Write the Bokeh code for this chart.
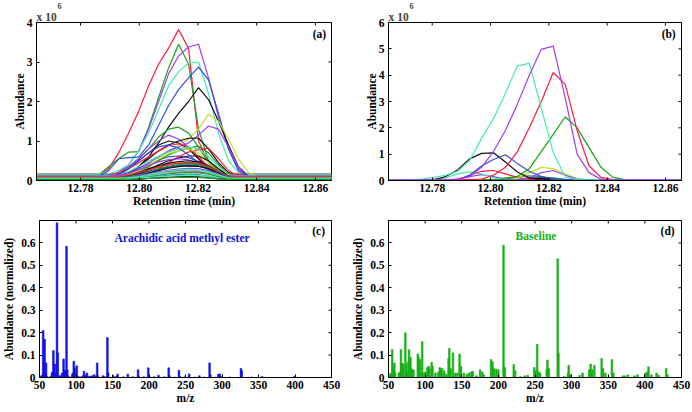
import numpy as np
from bokeh.plotting import figure
from bokeh.layouts import row, column
from bokeh.models import Range1d, FixedTicker, Label, NumeralTickFormatter, Title
from bokeh.embed import file_html
from bokeh.resources import INLINE

# ---------------- colours ----------------
RED = "#FF1A3C"
GREEN = "#1E9E1E"
PURPLE = "#9B3FF0"
AQUA = "#44EBB0"
BLUE = "#2E4FDF"
BLACK = "#111111"
YELLOW = "#BDE332"
SPEC_BLUE = "#1010E6"
SPEC_GREEN = "#18B018"

# ---------------- panel (a): retention-time grid and profiles (x 10^6) ----------------
rt_a = [12.7650, 12.7862, 12.7896, 12.7930, 12.7964, 12.7998, 12.8032, 12.8066, 12.8100, 12.8134,
        12.8168, 12.8202, 12.8236, 12.8270, 12.8304, 12.8338, 12.8372, 12.8406, 12.8440, 12.8655]

a01 = [0.15, 0.15, 0.30, 0.70, 1.20, 1.75, 2.40, 2.95, 3.35, 3.82, 3.35, 1.00, 0.45, 0.28, 0.17, 0.15, 0.15, 0.15, 0.15, 0.15]
a02 = [0.12, 0.14, 0.35, 0.55, 0.72, 0.73, 1.35, 2.10, 2.85, 3.45, 2.95, 1.30, 0.50, 0.22, 0.13, 0.12, 0.12, 0.12, 0.12, 0.12]
a03 = [0.10, 0.10, 0.12, 0.20, 0.40, 0.75, 1.30, 2.00, 2.70, 3.15, 3.38, 3.45, 2.60, 1.60, 0.80, 0.30, 0.12, 0.10, 0.10, 0.10]
a04 = [0.16, 0.16, 0.17, 0.25, 0.40, 0.75, 1.20, 1.80, 2.40, 2.75, 2.98, 3.00, 2.20, 1.20, 0.50, 0.20, 0.16, 0.16, 0.16, 0.16]
a05 = [0.08, 0.10, 0.25, 0.55, 0.58, 0.60, 0.90, 1.40, 1.90, 2.30, 2.60, 2.87, 2.55, 1.70, 0.80, 0.25, 0.10, 0.08, 0.08, 0.08]
a06 = [0.05, 0.05, 0.06, 0.10, 0.20, 0.35, 0.60, 0.95, 1.35, 1.70, 2.00, 2.35, 2.05, 1.50, 0.90, 0.35, 0.10, 0.05, 0.05, 0.05]
a07 = [0.06, 0.06, 0.06, 0.08, 0.12, 0.20, 0.35, 0.55, 0.75, 0.90, 1.05, 1.30, 1.68, 1.50, 1.05, 0.55, 0.20, 0.08, 0.06, 0.06]
a08 = [0.09, 0.09, 0.09, 0.11, 0.18, 0.30, 0.45, 0.60, 0.75, 0.85, 0.95, 1.15, 1.38, 1.30, 0.85, 0.35, 0.12, 0.09, 0.09, 0.09]
a09 = [0.10, 0.10, 0.12, 0.20, 0.35, 0.55, 0.80, 1.10, 1.30, 1.35, 1.20, 0.85, 0.45, 0.20, 0.12, 0.10, 0.10, 0.10, 0.10, 0.10]
a10 = [0.08, 0.08, 0.10, 0.20, 0.35, 0.55, 0.80, 1.00, 1.15, 1.05, 0.85, 0.55, 0.30, 0.15, 0.09, 0.08, 0.08, 0.08, 0.08, 0.08]
a11 = [0.05, 0.05, 0.06, 0.10, 0.20, 0.35, 0.55, 0.75, 0.90, 1.00, 1.07, 1.07, 0.80, 0.45, 0.20, 0.08, 0.05, 0.05, 0.05, 0.05]
a12 = [0.04, 0.04, 0.08, 0.15, 0.30, 0.50, 0.70, 0.90, 1.00, 0.95, 0.80, 0.55, 0.30, 0.12, 0.06, 0.04, 0.04, 0.04, 0.04, 0.04]
a13 = [0.10, 0.10, 0.12, 0.20, 0.30, 0.45, 0.60, 0.75, 0.88, 0.93, 0.85, 0.60, 0.35, 0.18, 0.10, 0.10, 0.10, 0.10, 0.10, 0.10]
a14 = [0.08, 0.08, 0.08, 0.10, 0.15, 0.25, 0.35, 0.50, 0.65, 0.75, 0.82, 0.87, 0.70, 0.40, 0.18, 0.09, 0.08, 0.08, 0.08, 0.08]
a15 = [0.06, 0.06, 0.06, 0.07, 0.08, 0.10, 0.20, 0.30, 0.45, 0.60, 0.72, 0.78, 0.82, 0.55, 0.25, 0.10, 0.06, 0.06, 0.06, 0.06]
a16 = [0.07, 0.07, 0.07, 0.10, 0.15, 0.25, 0.40, 0.55, 0.68, 0.75, 0.80, 0.70, 0.45, 0.20, 0.09, 0.07, 0.07, 0.07, 0.07, 0.07]
a17 = [0.03, 0.03, 0.03, 0.05, 0.10, 0.18, 0.28, 0.40, 0.50, 0.57, 0.62, 0.62, 0.50, 0.30, 0.12, 0.04, 0.03, 0.03, 0.03, 0.03]
a18 = [0.12, 0.12, 0.12, 0.15, 0.22, 0.35, 0.50, 0.62, 0.72, 0.80, 0.85, 0.80, 0.60, 0.35, 0.15, 0.12, 0.12, 0.12, 0.12, 0.12]
a19 = [0.07, 0.07, 0.09, 0.15, 0.30, 0.50, 0.70, 0.85, 0.90, 0.82, 0.65, 0.45, 0.25, 0.12, 0.08, 0.07, 0.07, 0.07, 0.07, 0.07]
a20 = [0.14, 0.14, 0.14, 0.16, 0.22, 0.32, 0.42, 0.52, 0.60, 0.62, 0.58, 0.48, 0.32, 0.18, 0.14, 0.14, 0.14, 0.14, 0.14, 0.14]
a21 = [0.11, 0.11, 0.11, 0.13, 0.18, 0.27, 0.38, 0.47, 0.53, 0.55, 0.52, 0.45, 0.32, 0.18, 0.12, 0.11, 0.11, 0.11, 0.11, 0.11]
a22 = [0.05, 0.05, 0.05, 0.07, 0.12, 0.20, 0.30, 0.38, 0.44, 0.48, 0.50, 0.47, 0.38, 0.22, 0.09, 0.05, 0.05, 0.05, 0.05, 0.05]
a23 = [0.09, 0.09, 0.09, 0.10, 0.14, 0.20, 0.27, 0.34, 0.40, 0.44, 0.46, 0.44, 0.36, 0.22, 0.11, 0.09, 0.09, 0.09, 0.09, 0.09]
a24 = [0.13, 0.13, 0.13, 0.14, 0.17, 0.22, 0.28, 0.35, 0.40, 0.43, 0.44, 0.42, 0.35, 0.24, 0.15, 0.13, 0.13, 0.13, 0.13, 0.13]
a25 = [0.06, 0.06, 0.06, 0.07, 0.10, 0.15, 0.22, 0.30, 0.36, 0.40, 0.42, 0.40, 0.33, 0.20, 0.09, 0.06, 0.06, 0.06, 0.06, 0.06]
a26 = [0.04, 0.04, 0.04, 0.05, 0.08, 0.13, 0.20, 0.27, 0.33, 0.37, 0.39, 0.37, 0.30, 0.18, 0.07, 0.04, 0.04, 0.04, 0.04, 0.04]
a27 = [0.10, 0.10, 0.10, 0.11, 0.13, 0.17, 0.23, 0.29, 0.34, 0.37, 0.38, 0.36, 0.30, 0.20, 0.12, 0.10, 0.10, 0.10, 0.10, 0.10]
a28 = [0.02, 0.02, 0.02, 0.03, 0.06, 0.11, 0.18, 0.25, 0.31, 0.35, 0.37, 0.36, 0.30, 0.18, 0.06, 0.02, 0.02, 0.02, 0.02, 0.02]
a29 = [0.05, 0.05, 0.05, 0.06, 0.08, 0.12, 0.17, 0.22, 0.26, 0.29, 0.31, 0.30, 0.25, 0.16, 0.07, 0.05, 0.05, 0.05, 0.05, 0.05]
a30 = [0.03, 0.03, 0.03, 0.04, 0.06, 0.10, 0.15, 0.20, 0.24, 0.27, 0.28, 0.27, 0.22, 0.14, 0.05, 0.03, 0.03, 0.03, 0.03, 0.03]
a31 = [0.02, 0.02, 0.02, 0.03, 0.05, 0.08, 0.12, 0.16, 0.20, 0.23, 0.24, 0.23, 0.19, 0.12, 0.04, 0.02, 0.02, 0.02, 0.02, 0.02]
a32 = [0.03, 0.03, 0.03, 0.03, 0.05, 0.07, 0.10, 0.14, 0.17, 0.19, 0.20, 0.19, 0.16, 0.10, 0.04, 0.03, 0.03, 0.03, 0.03, 0.03]
a33 = [0.02, 0.02, 0.02, 0.02, 0.03, 0.05, 0.08, 0.11, 0.13, 0.15, 0.15, 0.14, 0.11, 0.07, 0.03, 0.02, 0.02, 0.02, 0.02, 0.02]
a34 = [0.08, 0.08, 0.08, 0.08, 0.09, 0.11, 0.14, 0.17, 0.19, 0.21, 0.22, 0.21, 0.18, 0.13, 0.09, 0.08, 0.08, 0.08, 0.08, 0.08]
a35 = [0.01, 0.01, 0.01, 0.01, 0.02, 0.03, 0.05, 0.07, 0.08, 0.09, 0.10, 0.09, 0.07, 0.04, 0.02, 0.01, 0.01, 0.01, 0.01, 0.01]
a36 = [0.06, 0.06, 0.06, 0.06, 0.07, 0.09, 0.12, 0.16, 0.20, 0.23, 0.25, 0.24, 0.20, 0.13, 0.07, 0.06, 0.06, 0.06, 0.06, 0.06]
a37 = [0.04, 0.04, 0.04, 0.04, 0.05, 0.06, 0.08, 0.10, 0.12, 0.13, 0.14, 0.13, 0.11, 0.07, 0.04, 0.04, 0.04, 0.04, 0.04, 0.04]
a38 = [0.17, 0.17, 0.17, 0.17, 0.17, 0.18, 0.19, 0.21, 0.23, 0.25, 0.26, 0.25, 0.22, 0.19, 0.17, 0.17, 0.17, 0.17, 0.17, 0.17]
a39 = [0.03, 0.03, 0.03, 0.03, 0.03, 0.04, 0.05, 0.06, 0.07, 0.08, 0.08, 0.08, 0.06, 0.04, 0.03, 0.03, 0.03, 0.03, 0.03, 0.03]

series_a = [(a38, RED), (a34, PURPLE), (a20, BLUE), (a24, GREEN), (a27, BLACK), (a01, RED), (a02, GREEN),
            (a03, PURPLE), (a04, AQUA), (a05, BLUE), (a06, BLACK), (a07, YELLOW), (a08, PURPLE),
            (a09, GREEN), (a10, PURPLE), (a11, BLACK), (a12, BLACK), (a13, RED), (a14, GREEN),
            (a15, RED), (a16, YELLOW), (a17, BLACK), (a18, AQUA), (a19, BLUE), (a21, PURPLE),
            (a22, BLACK), (a23, RED), (a25, GREEN), (a26, BLUE), (a28, BLACK), (a29, PURPLE),
            (a30, AQUA), (a31, RED), (a32, GREEN), (a33, BLUE), (a36, AQUA), (a37, AQUA),
            (a35, BLACK), (a39, GREEN)]

# ---------------- panel (b): resolved profiles (x 10^6) ----------------
rt_b = [12.7650, 12.7723, 12.7764, 12.7805, 12.7846, 12.7887, 12.7928, 12.7969, 12.8010, 12.8051, 12.8092,
        12.8133, 12.8174, 12.8215, 12.8256, 12.8297, 12.8338, 12.8379, 12.8420, 12.8461, 12.8502, 12.8655]

b01 = [0.02, 0.03, 0.05, 0.12, 0.20, 0.35, 0.75, 1.60, 2.35, 3.30, 4.35, 4.45, 2.75, 1.07, 0.13, 0.03, 0.02, 0.02, 0.02, 0.02, 0.02, 0.02]
b02 = [0.02, 0.02, 0.02, 0.02, 0.03, 0.05, 0.15, 0.50, 1.10, 1.90, 2.90, 4.00, 4.98, 5.10, 3.15, 1.00, 0.30, 0.05, 0.02, 0.02, 0.02, 0.02]
b03 = [0.02, 0.02, 0.02, 0.02, 0.02, 0.03, 0.03, 0.05, 0.20, 0.50, 1.10, 2.00, 3.00, 4.10, 3.65, 1.90, 0.55, 0.12, 0.03, 0.02, 0.02, 0.02]
b04 = [0.03, 0.03, 0.03, 0.03, 0.03, 0.03, 0.03, 0.03, 0.03, 0.04, 0.15, 0.45, 1.10, 1.75, 2.42, 2.00, 1.25, 0.50, 0.12, 0.03, 0.03, 0.03]
b05 = [0.02, 0.02, 0.02, 0.03, 0.15, 0.40, 0.82, 1.03, 1.05, 0.70, 0.32, 0.10, 0.02, 0.02, 0.02, 0.02, 0.02, 0.02, 0.02, 0.02, 0.02, 0.02]
b06 = [0.02, 0.02, 0.02, 0.02, 0.02, 0.03, 0.20, 0.55, 0.80, 0.98, 0.65, 0.35, 0.15, 0.05, 0.02, 0.02, 0.02, 0.02, 0.02, 0.02, 0.02, 0.02]
b07 = [0.02, 0.02, 0.03, 0.05, 0.10, 0.25, 0.33, 0.25, 0.10, 0.03, 0.02, 0.02, 0.02, 0.02, 0.02, 0.02, 0.02, 0.02, 0.02, 0.02, 0.02, 0.02]
b08 = [0.02, 0.02, 0.02, 0.02, 0.02, 0.03, 0.20, 0.35, 0.38, 0.25, 0.12, 0.04, 0.02, 0.02, 0.02, 0.02, 0.02, 0.02, 0.02, 0.02, 0.02, 0.02]
b09 = [0.02, 0.02, 0.02, 0.02, 0.02, 0.02, 0.02, 0.02, 0.02, 0.03, 0.10, 0.30, 0.50, 0.45, 0.25, 0.07, 0.02, 0.02, 0.02, 0.02, 0.02, 0.02]
b10 = [0.02, 0.02, 0.02, 0.02, 0.02, 0.02, 0.02, 0.02, 0.02, 0.02, 0.03, 0.10, 0.30, 0.38, 0.20, 0.05, 0.02, 0.02, 0.02, 0.02, 0.02, 0.02]
b11 = [0.02, 0.02, 0.02, 0.02, 0.02, 0.02, 0.02, 0.02, 0.03, 0.10, 0.15, 0.18, 0.15, 0.08, 0.03, 0.02, 0.02, 0.02, 0.02, 0.02, 0.02, 0.02]
b12 = [0.01, 0.01, 0.01, 0.01, 0.01, 0.01, 0.01, 0.01, 0.01, 0.02, 0.04, 0.10, 0.12, 0.10, 0.04, 0.01, 0.01, 0.01, 0.01, 0.01, 0.01, 0.01]
b13 = [0.01, 0.01, 0.01, 0.01, 0.01, 0.01, 0.01, 0.01, 0.01, 0.01, 0.02, 0.05, 0.08, 0.06, 0.02, 0.01, 0.01, 0.01, 0.01, 0.01, 0.01, 0.01]
b14 = [0.01, 0.01, 0.01, 0.01, 0.01, 0.05, 0.15, 0.22, 0.15, 0.05, 0.01, 0.01, 0.01, 0.01, 0.01, 0.01, 0.01, 0.01, 0.01, 0.01, 0.01, 0.01]

series_b = [(b12, BLUE), (b13, BLACK), (b11, GREEN), (b14, PURPLE), (b07, AQUA), (b08, RED), (b09, YELLOW),
            (b10, PURPLE), (b05, BLACK), (b06, BLUE), (b04, GREEN), (b03, RED), (b01, AQUA), (b02, PURPLE)]

# ---------------- panel (c): arachidic acid methyl ester spectrum ----------------
mz_c = [51, 53, 54, 55, 56, 57, 58, 59, 60, 65, 67, 68, 69, 70, 71, 72, 73, 74, 75, 76, 77, 79, 81, 82, 83,
        84, 85, 86, 87, 88, 89, 91, 95, 96, 97, 98, 99, 101, 102, 105, 109, 110, 111, 112, 113, 115, 116,
        119, 121, 123, 125, 127, 129, 130, 137, 139, 143, 144, 151, 155, 157, 165, 171, 178, 185, 186,
        193, 199, 200, 207, 213, 221, 227, 228, 235, 241, 242, 249, 255, 263, 269, 276, 283, 284, 291,
        295, 297, 298, 311, 326, 327, 341, 355, 399]
ab_c = [0.005, 0.008, 0.010, 0.210, 0.020, 0.170, 0.010, 0.065, 0.005, 0.005, 0.020, 0.025, 0.120, 0.020,
        0.060, 0.010, 0.020, 0.690, 0.110, 0.008, 0.005, 0.008, 0.020, 0.010, 0.083, 0.030, 0.030, 0.015,
        0.585, 0.035, 0.008, 0.003, 0.015, 0.020, 0.072, 0.040, 0.010, 0.052, 0.006, 0.003, 0.006, 0.008,
        0.028, 0.010, 0.006, 0.020, 0.006, 0.005, 0.006, 0.008, 0.012, 0.004, 0.065, 0.008, 0.008, 0.004,
        0.178, 0.020, 0.008, 0.005, 0.015, 0.003, 0.015, 0.003, 0.035, 0.005, 0.003, 0.043, 0.007, 0.003,
        0.010, 0.003, 0.043, 0.008, 0.002, 0.032, 0.006, 0.003, 0.016, 0.002, 0.008, 0.002, 0.065, 0.012,
        0.002, 0.014, 0.016, 0.004, 0.002, 0.040, 0.030, 0.002, 0.005, 0.005]

# ---------------- panel (d): baseline spectrum ----------------
mz_d = [52, 54, 55, 56, 58, 59, 64, 66, 67, 68, 69, 70, 73, 74, 75, 77, 78, 80, 81, 82, 84, 90, 91, 93, 94,
        96, 97, 100, 101, 103, 105, 106, 109, 110, 114, 118, 120, 121, 123, 126, 129, 132, 133, 135, 138,
        141, 144, 147, 149, 153, 157, 160, 163, 165, 170, 175, 178, 180, 190, 192, 194, 197, 200, 207, 209,
        221, 223, 230, 236, 240, 249, 251, 253, 255, 257, 266, 267, 269, 281, 282, 290, 295, 296, 298, 311,
        315, 324, 326, 328, 331, 341, 343, 346, 355, 357, 370, 373, 377, 386, 390, 401, 403, 405, 409, 416,
        419, 429, 431]
ab_d = [0.015, 0.020, 0.125, 0.050, 0.065, 0.020, 0.020, 0.025, 0.125, 0.065, 0.060, 0.060, 0.200, 0.060,
        0.020, 0.070, 0.125, 0.090, 0.040, 0.035, 0.035, 0.105, 0.090, 0.080, 0.020, 0.160, 0.020, 0.025,
        0.020, 0.045, 0.050, 0.040, 0.068, 0.050, 0.020, 0.025, 0.045, 0.040, 0.040, 0.030, 0.015, 0.085,
        0.130, 0.040, 0.110, 0.020, 0.020, 0.105, 0.050, 0.020, 0.015, 0.020, 0.025, 0.028, 0.008, 0.035,
        0.025, 0.012, 0.080, 0.070, 0.040, 0.038, 0.035, 0.590, 0.045, 0.058, 0.030, 0.005, 0.008, 0.010,
        0.045, 0.030, 0.148, 0.025, 0.020, 0.035, 0.078, 0.040, 0.530, 0.110, 0.005, 0.020, 0.055, 0.015,
        0.010, 0.020, 0.035, 0.060, 0.035, 0.055, 0.085, 0.040, 0.020, 0.080, 0.020, 0.008, 0.008, 0.012,
        0.008, 0.012, 0.020, 0.025, 0.048, 0.012, 0.020, 0.010, 0.040, 0.012]

# ---------------- axes settings ----------------
rt_ticks = [12.78, 12.80, 12.82, 12.84, 12.86]
a_yticks = [0, 1, 2, 3, 4]
b_yticks = [0, 1, 2, 3, 4, 5, 6]
mz_ticks = [50, 100, 150, 200, 250, 300, 350, 400, 450]
spec_yticks = [0, 0.1, 0.2, 0.3, 0.4, 0.5, 0.6]

FONT = "Liberation Serif"
FS = "11.5px"


def make_fig(xr, yr, w, h, bl, br, bt, bb):
    p = figure(output_backend="svg", toolbar_location=None,
               x_range=Range1d(*xr), y_range=Range1d(*yr),
               width=w, height=h,
               min_border_left=bl, min_border_right=br, min_border_top=bt, min_border_bottom=bb)
    p.xgrid.visible = False
    p.ygrid.visible = False
    p.outline_line_color = "black"
    p.outline_line_width = 1
    p.background_fill_color = "white"
    p.border_fill_color = "white"
    return p


def style_axes(p, xticks, yticks, xfmt, yfmt, xlabel, ylabel, xl_stand, yl_stand, yover=None):
    for ax in [p.xaxis[0], p.yaxis[0]]:
        ax.major_tick_in = 3
        ax.major_tick_out = 0
        ax.minor_tick_in = 0
        ax.minor_tick_out = 0
        ax.axis_line_color = "black"
        ax.major_label_text_font = FONT
        ax.major_label_text_font_style = "bold"
        ax.major_label_text_font_size = FS
        ax.major_label_text_color = "black"
        ax.major_label_standoff = 4
        ax.axis_label_text_font = FONT
        ax.axis_label_text_font_style = "bold"
        ax.axis_label_text_font_size = FS
        ax.axis_label_text_color = "black"
    p.xaxis[0].major_label_standoff = 3
    p.xaxis[0].axis_label = xlabel
    p.yaxis[0].axis_label = ylabel
    p.xaxis[0].axis_label_standoff = xl_stand
    p.yaxis[0].axis_label_standoff = yl_stand
    p.xaxis[0].ticker = FixedTicker(ticks=xticks)
    p.yaxis[0].ticker = FixedTicker(ticks=yticks)
    p.xaxis[0].formatter = NumeralTickFormatter(format=xfmt)
    p.yaxis[0].formatter = NumeralTickFormatter(format=yfmt)
    if yover:
        p.yaxis[0].major_label_overrides = yover
    # mirrored inward ticks on the top and right edges of the box (3 px, screen units)
    xr, yr = p.x_range, p.y_range
    p.ray(x=xticks, y=[yr.end] * len(xticks), length=3, length_units="screen",
          angle=-np.pi / 2, line_color="black", line_width=1)
    p.ray(x=[xr.end] * len(yticks), y=yticks, length=3, length_units="screen",
          angle=np.pi, line_color="black", line_width=1)


def add_label(p, x, y, text, color="black", size=FS):
    p.add_layout(Label(x=x, y=y, text=text, text_font=FONT, text_font_style="bold",
                       text_font_size=size, text_color=color,
                       text_align="center", text_baseline="middle"))


def add_exponent(p):
    # outermost title: the superscript exponent
    p.title.text = "6"
    p.title.align = "left"
    p.title.offset = 21
    p.title.standoff = 0
    p.title.text_font = FONT
    p.title.text_font_style = "bold"
    p.title.text_font_size = "8px"
    # inner title: the "x 10" multiplier
    p.add_layout(Title(text="x 10", align="left", offset=0, standoff=0, text_font=FONT,
                       text_font_style="bold", text_font_size=FS), "above")


RT_RANGE = (12.765, 12.8655)
MZ_RANGE = (50, 450)

# ---------------- (a) ----------------  frame 36..331 x 22..180
pa = make_fig(RT_RANGE, (0, 4), 346, 210, 36, 15, 22, 30)
style_axes(pa, rt_ticks, a_yticks, "0.00", "0", "Retention time (min)", "Abundance", 0, -2)
add_exponent(pa)
for vals, col in series_a:
    pa.line(rt_a, vals, line_color=col, line_width=1.2)
add_label(pa, 12.8614, 3.72, "(a)")

# ---------------- (b) ----------------  frame 388..681 x 22..180
pb = make_fig(RT_RANGE, (0, 6), 346, 210, 42, 11, 22, 30)
style_axes(pb, rt_ticks, b_yticks, "0.00", "0", "Retention time (min)", "Abundance", 0, -2)
add_exponent(pb)
for vals, col in series_b:
    pb.line(rt_b, vals, line_color=col, line_width=1.2)
add_label(pb, 12.8611, 5.57, "(b)")

# ---------------- (c) ----------------  frame 36..331 x 220..377
pc = make_fig(MZ_RANGE, (0, 0.7), 346, 198, 36, 15, 10, 31)
style_axes(pc, mz_ticks, spec_yticks, "0", "0.0", "m/z", "Abundance (normalized)", 0, 3, {0: "0"})
pc.vbar(x=mz_c, top=ab_c, width=2.4, fill_color=SPEC_BLUE, line_color=SPEC_BLUE, line_width=0.5)
add_label(pc, 432.4, 0.655, "(c)")
add_label(pc, 245.3, 0.621, "Arachidic acid methyl ester", color=SPEC_BLUE)

# ---------------- (d) ----------------  frame 388..681 x 220..377
pd_ = make_fig(MZ_RANGE, (0, 0.7), 346, 198, 42, 11, 10, 31)
style_axes(pd_, mz_ticks, spec_yticks, "0", "0.0", "m/z", "Abundance (normalized)", 0, 3, {0: "0"})
pd_.vbar(x=mz_d, top=ab_d, width=2.4, fill_color=SPEC_GREEN, line_color=SPEC_GREEN, line_width=0.5)
add_label(pd_, 431.0, 0.651, "(d)")
add_label(pd_, 251.4, 0.629, "Baseline", color=SPEC_GREEN)

layout = column(row(pa, pb), row(pc, pd_))
open("out.html", "w").write(file_html(layout, INLINE))
